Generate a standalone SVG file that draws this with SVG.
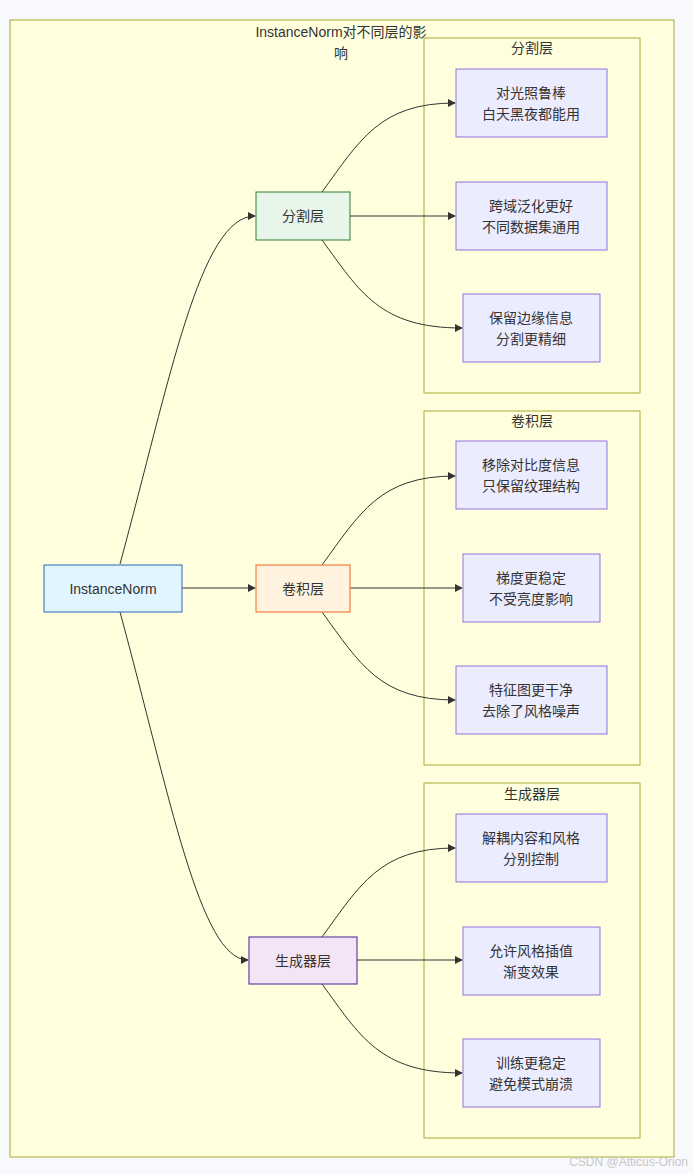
<svg xmlns="http://www.w3.org/2000/svg" width="693" height="1174" viewBox="0 0 693 1174">
<defs>
<style>
.t{font-family:"Liberation Sans","Noto Sans CJK SC",sans-serif;font-size:14px;fill:#333;text-anchor:middle}
.cl{fill:#ffffde;stroke:#aaaa33;stroke-width:1}
.leaf{fill:#ececff;stroke:#9370db;stroke-width:1}
.e{fill:none;stroke:#333;stroke-width:1;marker-end:url(#arr)}
</style>
<marker id="arr" viewBox="0 0 10 10" refX="9" refY="5" markerWidth="8" markerHeight="8" markerUnits="userSpaceOnUse" orient="auto">
<path d="M0,0 L10,5 L0,10 z" fill="#333"/>
</marker>
</defs>
<rect width="693" height="1174" fill="#f8f9fc"/>
<g id="outer">
<rect class="cl" x="10" y="20" width="664" height="1137"/>
<text class="t" x="341" y="37">InstanceNorm对不同层的影</text>
<text class="t" x="341" y="58">响</text>
</g>
<g id="cluster-seg">
<rect class="cl" x="424" y="38" width="216" height="355"/>
<text class="t" x="532" y="53">分割层</text>
</g>
<g id="cluster-conv">
<rect class="cl" x="424" y="411" width="216" height="354"/>
<text class="t" x="532" y="426">卷积层</text>
</g>
<g id="cluster-gen">
<rect class="cl" x="424" y="783" width="216" height="355"/>
<text class="t" x="532" y="799">生成器层</text>
</g>
<g id="edges">
<path class="e" d="M120,564 C170,380 200,216 255,216"/>
<path class="e" d="M182,588 L255,588"/>
<path class="e" d="M120,612 C170,796 200,960 248,960"/>
<path class="e" d="M322,192 C360,140 380,103 455,103"/>
<path class="e" d="M350,216 L455,216"/>
<path class="e" d="M322,240 C360,292 380,328 462,328"/>
<path class="e" d="M322,565 C360,513 380,476 455,476"/>
<path class="e" d="M350,588 L462,588"/>
<path class="e" d="M322,612 C360,664 380,700 455,700"/>
<path class="e" d="M322,937 C360,885 380,848 455,848"/>
<path class="e" d="M357,960 L462,960"/>
<path class="e" d="M322,984 C360,1036 380,1073 462,1073"/>
</g>
<g id="InstanceNorm">
<rect x="44" y="565" width="138" height="47" fill="#e1f5fe" stroke="#4a7fc1" stroke-width="1.2"/>
<text class="t" x="113" y="594">InstanceNorm</text>
</g>
<g id="seg">
<rect x="256" y="192" width="94" height="48" fill="#e8f5e9" stroke="#2e7d32" stroke-width="1"/>
<text class="t" x="303" y="221">分割层</text>
</g>
<g id="conv">
<rect x="256" y="565" width="94" height="47" fill="#fff3e0" stroke="#ef7f3f" stroke-width="1.2"/>
<text class="t" x="303" y="594">卷积层</text>
</g>
<g id="gen">
<rect x="249" y="937" width="108" height="47" fill="#f3e5f5" stroke="#6a3fa0" stroke-width="1.2"/>
<text class="t" x="303" y="966">生成器层</text>
</g>
<g id="s1">
<rect class="leaf" x="456" y="69" width="151" height="68"/>
<text class="t" x="531" y="98">对光照鲁棒</text>
<text class="t" x="531" y="119">白天黑夜都能用</text>
</g>
<g id="s2">
<rect class="leaf" x="456" y="182" width="151" height="68"/>
<text class="t" x="531" y="211">跨域泛化更好</text>
<text class="t" x="531" y="232">不同数据集通用</text>
</g>
<g id="s3">
<rect class="leaf" x="463" y="294" width="137" height="68"/>
<text class="t" x="531" y="323">保留边缘信息</text>
<text class="t" x="531" y="344">分割更精细</text>
</g>
<g id="c1">
<rect class="leaf" x="456" y="441" width="151" height="68"/>
<text class="t" x="531" y="470">移除对比度信息</text>
<text class="t" x="531" y="491">只保留纹理结构</text>
</g>
<g id="c2">
<rect class="leaf" x="463" y="554" width="137" height="68"/>
<text class="t" x="531" y="583">梯度更稳定</text>
<text class="t" x="531" y="604">不受亮度影响</text>
</g>
<g id="c3">
<rect class="leaf" x="456" y="666" width="151" height="68"/>
<text class="t" x="531" y="695">特征图更干净</text>
<text class="t" x="531" y="716">去除了风格噪声</text>
</g>
<g id="g1">
<rect class="leaf" x="456" y="814" width="151" height="68"/>
<text class="t" x="531" y="843">解耦内容和风格</text>
<text class="t" x="531" y="864">分别控制</text>
</g>
<g id="g2">
<rect class="leaf" x="463" y="927" width="137" height="68"/>
<text class="t" x="531" y="956">允许风格插值</text>
<text class="t" x="531" y="977">渐变效果</text>
</g>
<g id="g3">
<rect class="leaf" x="463" y="1039" width="137" height="68"/>
<text class="t" x="531" y="1068">训练更稳定</text>
<text class="t" x="531" y="1089">避免模式崩溃</text>
</g>
<text x="688" y="1166" font-family="Liberation Sans, sans-serif" font-size="12" fill="#c8c8c8" text-anchor="end">CSDN @Atticus-Orion</text>
</svg>
